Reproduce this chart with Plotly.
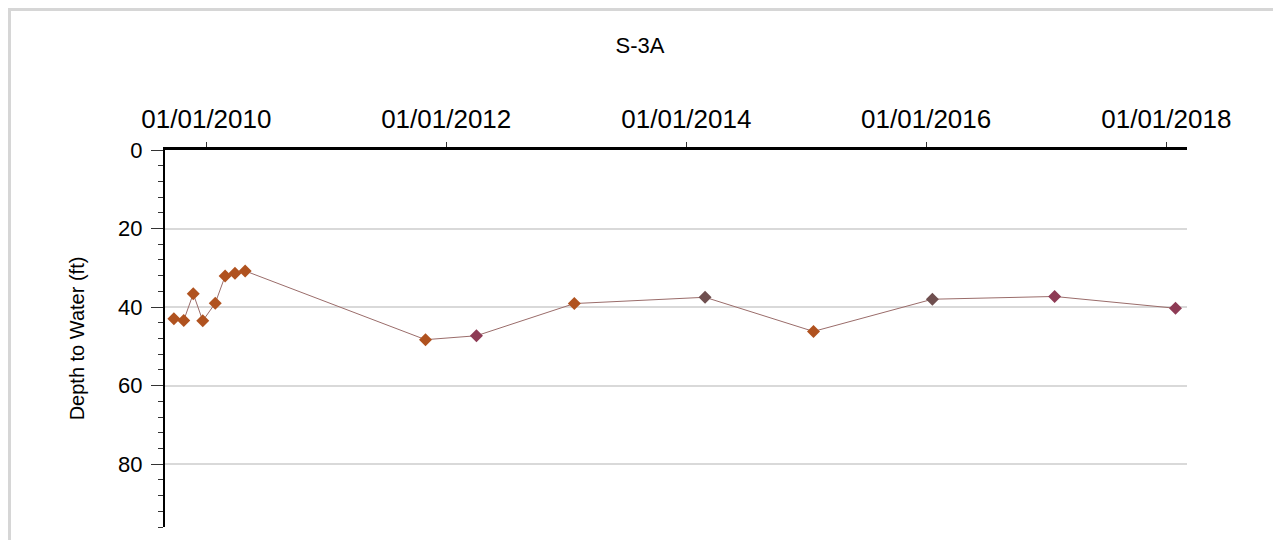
import plotly.graph_objects as go

# ---- data ----
sample_dates = ['2009-09-24', '2009-10-24', '2009-11-22', '2009-12-21', '2010-01-28',
                '2010-02-27', '2010-03-29', '2010-04-29', '2011-10-30', '2012-04-02',
                '2013-01-25', '2014-02-27', '2015-01-23', '2016-01-20', '2017-01-26',
                '2018-01-29']
depth_to_water = [43.0, 43.4, 36.6, 43.5, 39.0, 32.1, 31.4, 30.8, 48.3, 47.3,
                  39.1, 37.5, 46.2, 38.0, 37.3, 40.3]
well_name = 'S-3A'
y_title = 'Depth to Water (ft)'

# ---- styles ----
ORANGE = '#b0521f'
MAUVE = '#8e3b55'
DARK = '#6f4f4f'
marker_colors = [ORANGE] * 9 + [MAUVE, ORANGE, DARK, ORANGE, DARK, MAUVE, MAUVE]
FONT = 'Liberation Sans, Arial, sans-serif'

# page body adds an 8px offset; compensate in margins
OFF = 8
L, T = 165 - OFF, 150 - OFF
PW, PH = 1022, 377

fig = go.Figure()
fig.add_trace(go.Scatter(
    x=sample_dates, y=depth_to_water, mode='lines+markers',
    line=dict(color='#9a6c6a', width=1),
    marker=dict(symbol='diamond', size=10, color=marker_colors,
                line=dict(width=0)),
    showlegend=False, hoverinfo='x+y'))

# light frame around the whole chart (figure pixel coords -> paper)
fx0, fx1, fy0, fy1 = 1.5, 1269, 1.5, 545
fig.update_layout(
    width=1281, height=540,
    margin=dict(l=L, r=1281 - L - PW, t=T, b=540 - T - PH),
    paper_bgcolor='white', plot_bgcolor='white',
    font=dict(family=FONT, color='black'),
    title=dict(text=well_name, x=(640 - OFF) / 1281, xanchor='center', xref='container',
               y=1 - (45 - OFF) / 540, yanchor='middle', yref='container',
               font=dict(size=22, family=FONT, color='black')),
    shapes=[dict(type='rect', xref='paper', yref='paper',
                 x0=(fx0 - L) / PW, x1=(fx1 - L) / PW,
                 y0=(T + PH - fy1) / PH, y1=(T + PH - fy0) / PH,
                 line=dict(color='#d6d6d6', width=3), layer='below')],
)

fig.update_xaxes(
    type='date', side='top',
    range=['2009-08-28', '2018-03-05'],
    tick0='2010-01-01', dtick='M24', tickformat='%m/%d/%Y',
    showline=True, linecolor='black', linewidth=3,
    ticks='outside', ticklen=5, tickcolor='#333', tickwidth=1,
    ticklabelstandoff=4,
    tickfont=dict(size=26, family=FONT, color='black'),
    showgrid=False, zeroline=False, mirror=False,
)

fig.update_yaxes(
    range=[96, 0], tick0=0, dtick=20,
    showline=True, linecolor='black', linewidth=2,
    ticks='outside', ticklen=12, tickcolor='#333', tickwidth=1,
    ticklabelstandoff=4,
    tickfont=dict(size=22, family=FONT, color='black'),
    minor=dict(dtick=4, ticks='outside', ticklen=5, tickcolor='#333',
               tickwidth=1, showgrid=False),
    showgrid=True, gridcolor='#d9d9d9', gridwidth=2,
    zeroline=False,
    title=dict(text=y_title, standoff=28,
               font=dict(size=20, family=FONT, color='black')),
)

fig.write_html('out.html')
